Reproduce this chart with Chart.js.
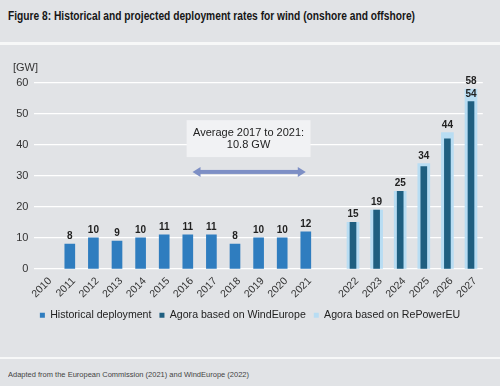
<!DOCTYPE html>
<html><head><meta charset="utf-8">
<script src="https://cdn.jsdelivr.net/npm/chart.js@4.4.1/dist/chart.umd.min.js"></script>
<style>
html,body{margin:0;padding:0;}
body{width:500px;height:386px;background:#e1e3e6;position:relative;overflow:hidden;font-family:"Liberation Sans",Arial,sans-serif;}
#title{position:absolute;left:8px;top:9px;font-family:"Liberation Sans Narrow","Liberation Sans",sans-serif;font-weight:bold;font-size:12.5px;line-height:14px;color:#161616;white-space:nowrap;transform-origin:0 0;}
.sep{position:absolute;left:0;width:500px;background:#f7f8f8;}
#wrap{position:absolute;left:0;top:45px;width:500px;height:312px;}
#foot{position:absolute;left:8px;top:370px;font-family:"Liberation Sans Narrow","Liberation Sans",sans-serif;font-size:8px;line-height:9px;color:#444;white-space:nowrap;transform-origin:0 0;}
</style></head>
<body>
<div id="title">Figure 8: Historical and projected deployment rates for wind (onshore and offshore)</div>
<div class="sep" style="top:42px;height:3px"></div>
<div id="wrap"><canvas id="c" width="500" height="312"></canvas></div>
<div class="sep" style="top:357px;height:2px"></div>
<div id="foot">Adapted from the European Commission (2021) and WindEurope (2022)</div>
<script>
// ---- data ----
const historicalYears = ['2010','2011','2012','2013','2014','2015','2016','2017','2018','2019','2020','2021'];
const projectionYears = ['2022','2023','2024','2025','2026','2027'];
const historical = [null, 8, 10, 9, 10, 11, 11, 11, 8, 10, 10, 12];
const windEurope = [15, 19, 25, 33, 42, 54];
const rePowerEU  = [15, 19, 25, 34, 44, 58];
const windEuropeLabelShown = [false, false, false, false, false, true];
const yTicks = [0, 10, 20, 30, 40, 50, 60];

// ---- build ----
const gap = [''];
const labels = historicalYears.concat(gap, projectionYears);
const pad = n => Array(n).fill(null);
const histData = historical.concat(pad(1 + projectionYears.length));
const weData = pad(historicalYears.length + 1).concat(windEurope);
const reData = pad(historicalYears.length + 1).concat(rePowerEU);
const weMask = pad(historicalYears.length + 1).map(() => false).concat(windEuropeLabelShown);

function fitText(id, w){
  const el = document.getElementById(id);
  const cw = el.getBoundingClientRect().width;
  el.style.transform = 'scaleX(' + (w / cw) + ')';
}
fitText('title', 407);
fitText('foot', 241);

const FONT = '"Liberation Sans", Arial, sans-serif';

const overlay = {
  id: 'overlay',
  afterDatasetsDraw(chart){
    const {ctx, scales:{x, y}, chartArea} = chart;
    ctx.save();
    // value labels
    ctx.font = 'bold 10px ' + FONT;
    ctx.fillStyle = '#222';
    ctx.textAlign = 'center';
    ctx.textBaseline = 'alphabetic';
    chart.data.datasets.forEach((ds, di) => {
      const meta = chart.getDatasetMeta(di);
      meta.data.forEach((el, i) => {
        const v = ds.data[i];
        if (v == null) return;
        if (ds.labelMask && !ds.labelMask[i]) return;
        ctx.fillText(String(v), el.x, el.y - 5);
      });
    });
    // unit
    ctx.font = '11px ' + FONT;
    ctx.fillStyle = '#333';
    ctx.textAlign = 'left';
    ctx.textBaseline = 'middle';
    ctx.fillText('[GW]', 13, chartArea.top - 15);
    // annotation box
    const bx1 = x.getPixelForValue(5.95), bx2 = x.getPixelForValue(11.2);
    const by1 = y.getPixelForValue(48), by2 = y.getPixelForValue(36.1);
    ctx.fillStyle = '#f1f2f4';
    ctx.fillRect(bx1, by1, bx2 - bx1, by2 - by1);
    ctx.fillStyle = '#222';
    ctx.textAlign = 'center';
    ctx.font = '11px ' + FONT;
    const cx = (bx1 + bx2) / 2, cy = (by1 + by2) / 2;
    ctx.fillText('Average 2017 to 2021:', cx, cy - 5.5);
    ctx.fillText('10.8 GW', cx, cy + 6);
    // double arrow
    const ax1 = x.getPixelForValue(6.2), ax2 = x.getPixelForValue(11);
    const ay = y.getPixelForValue(31.3);
    ctx.fillStyle = '#7d8fc5';
    ctx.fillRect(ax1 + 7, ay - 2, ax2 - ax1 - 14, 4);
    ctx.beginPath();
    ctx.moveTo(ax1, ay); ctx.lineTo(ax1 + 8, ay - 5); ctx.lineTo(ax1 + 8, ay + 5); ctx.closePath();
    ctx.moveTo(ax2, ay); ctx.lineTo(ax2 - 8, ay - 5); ctx.lineTo(ax2 - 8, ay + 5); ctx.closePath();
    ctx.fill();
    ctx.restore();
  }
};

new Chart(document.getElementById('c'), {
  type: 'bar',
  data: {
    labels: labels,
    datasets: [
      { label: 'Historical deployment', data: histData, backgroundColor: '#2f7dbf', barThickness: 10, grouped: false, order: 0 },
      { label: 'Agora based on WindEurope', data: weData, backgroundColor: '#1f5f80', barThickness: 6, grouped: false, order: 1, labelMask: weMask },
      { label: 'Agora based on RePowerEU', data: reData, backgroundColor: '#b8ddf3', barThickness: 12, grouped: false, order: 2 }
    ]
  },
  options: {
    responsive: false,
    animation: false,
    devicePixelRatio: 1,
    layout: { padding: { top: 38, right: 0, left: 0, bottom: 26.5 } },
    plugins: {
      legend: {
        position: 'bottom',
        labels: { boxWidth: 5, boxHeight: 5, padding: 8, color: '#222', font: { size: 10.6, family: FONT } }
      },
      tooltip: { enabled: false }
    },
    scales: {
      x: {
        offset: true,
        grid: { display: false, drawTicks: false },
        border: { display: false },
        ticks: { minRotation: 45, maxRotation: 45, autoSkip: false, color: '#333', padding: 6, labelOffset: 4, font: { size: 10.5, family: FONT } },
        afterFit: s => { s.height = 33; }
      },
      y: {
        min: 0, max: 60,
        afterBuildTicks: s => { s.ticks = yTicks.map(v => ({ value: v })); },
        grid: { color: '#ffffff', lineWidth: 1.2, drawTicks: false },
        border: { display: false },
        ticks: { color: '#333', padding: 6, font: { size: 11, family: FONT } },
        afterFit: s => { s.width = 34.4; }
      },
      yRight: {
        position: 'right',
        min: 0, max: 60,
        grid: { display: false, drawTicks: false },
        border: { display: false },
        ticks: { display: false },
        afterFit: s => { s.width = 17.2; }
      }
    }
  },
  plugins: [overlay]
});
</script>
</body></html>
